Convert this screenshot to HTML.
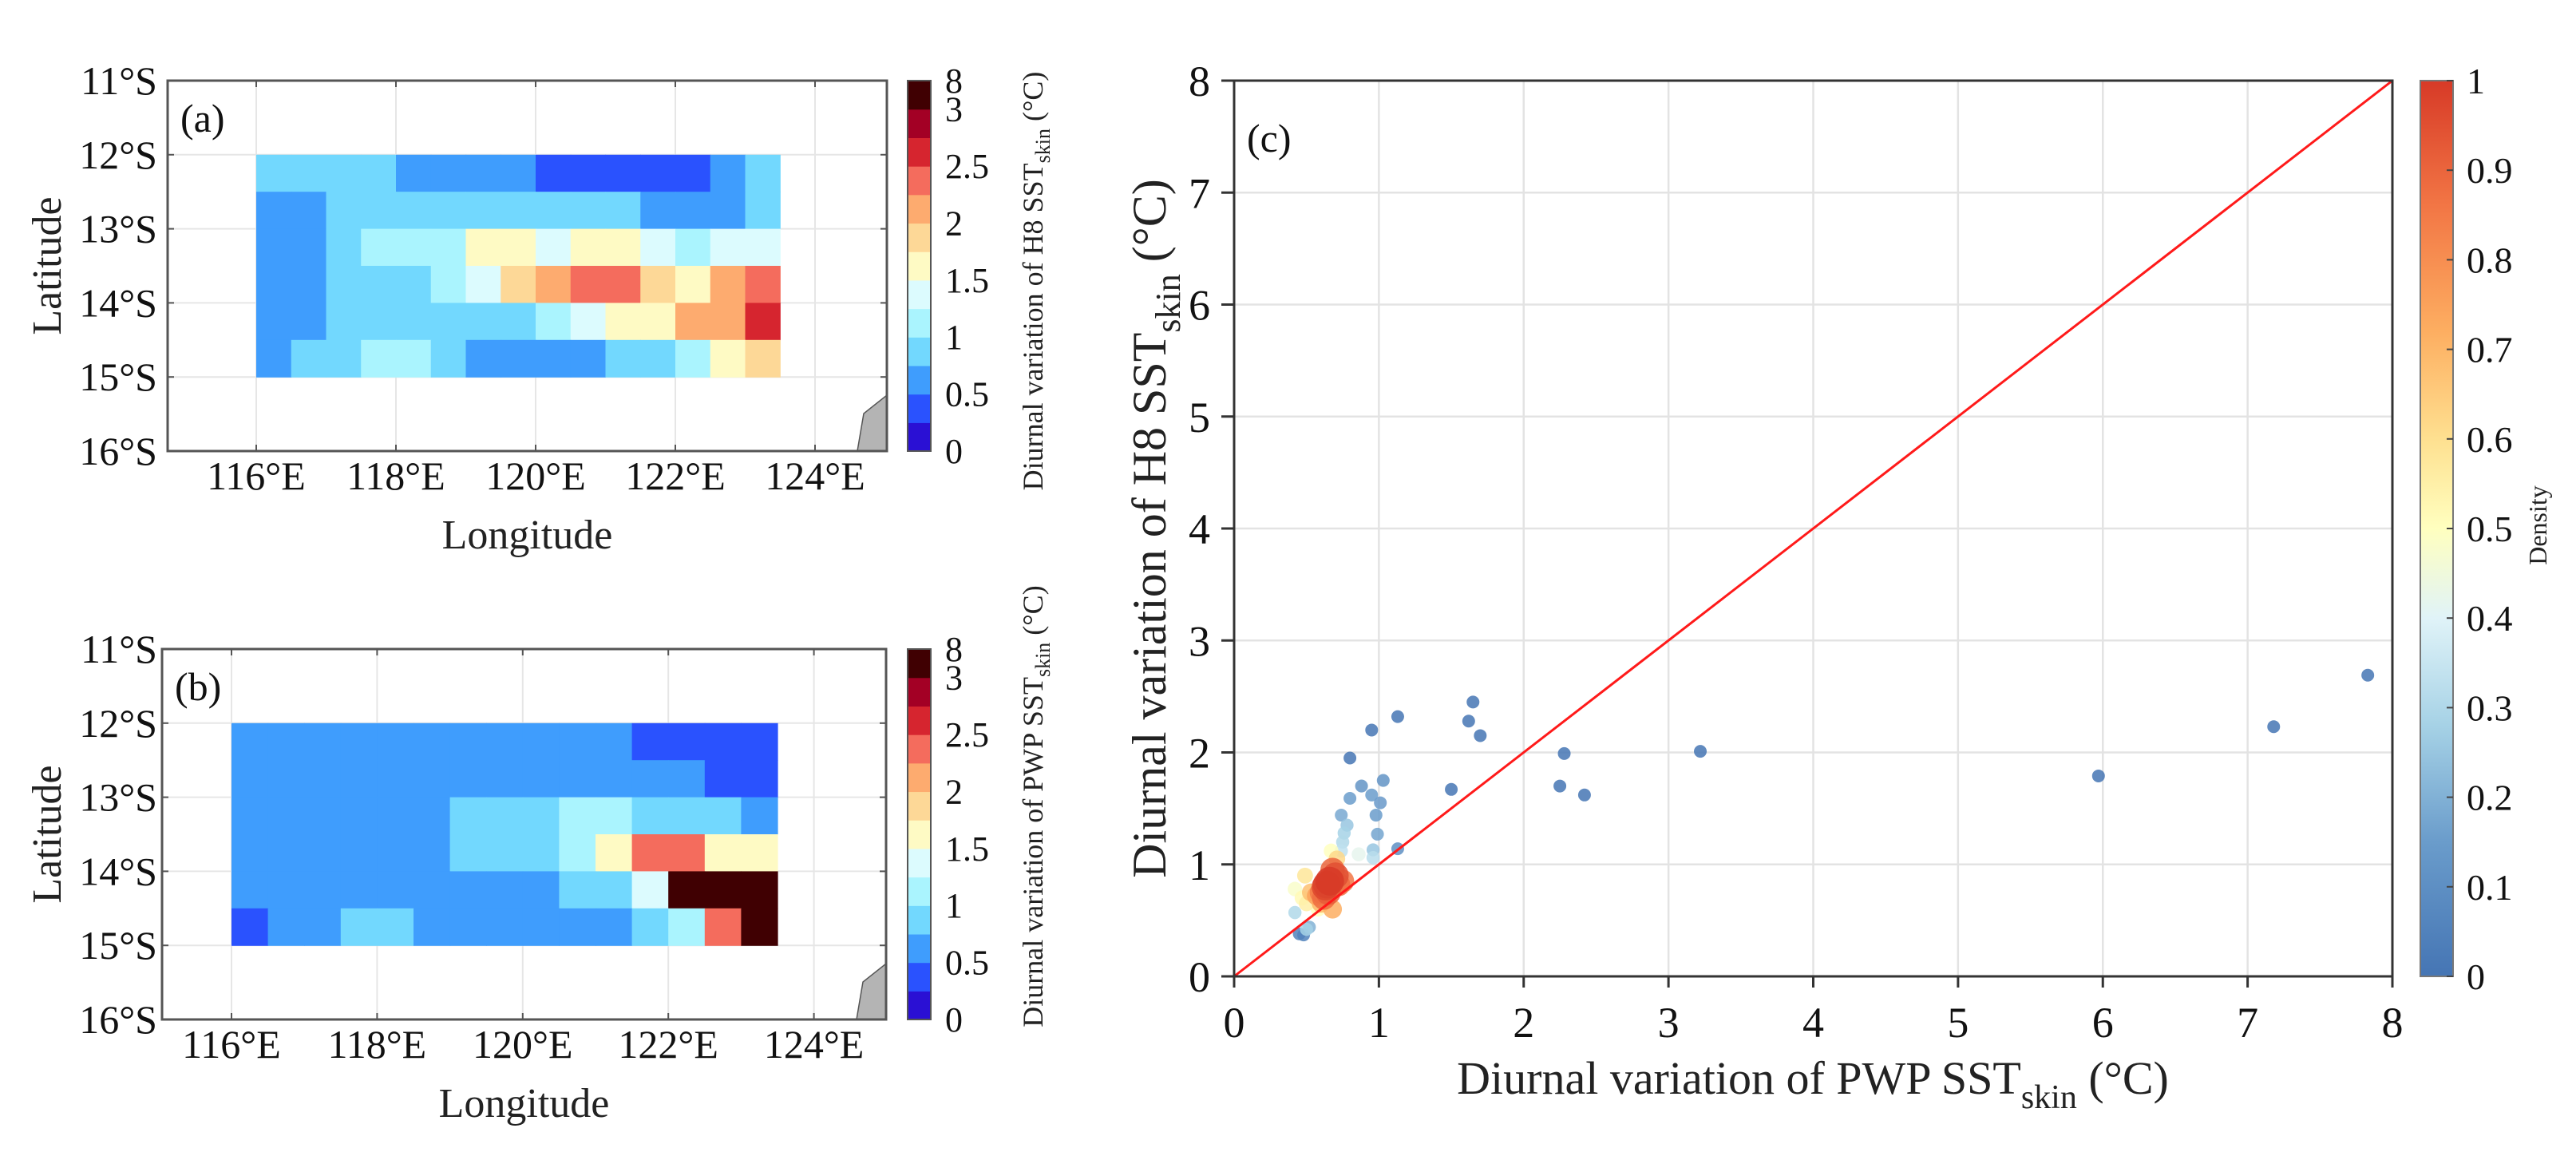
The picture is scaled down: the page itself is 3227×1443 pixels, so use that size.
<!DOCTYPE html>
<html><head><meta charset="utf-8"><style>
html,body{margin:0;padding:0;background:#fff;}
svg{display:block;font-family:"Liberation Serif",serif;}
</style></head><body>
<svg id="fig" width="3227" height="1443" viewBox="0 0 3227 1443" xmlns="http://www.w3.org/2000/svg">
<defs>
<linearGradient id="densGrad" x1="0" y1="1" x2="0" y2="0">
<stop offset="0" stop-color="#4575b4"/><stop offset="0.15" stop-color="#6a9ccb"/><stop offset="0.28" stop-color="#a6d2e6"/><stop offset="0.4" stop-color="#e0f3f8"/><stop offset="0.5" stop-color="#ffffbf"/><stop offset="0.6" stop-color="#fee090"/><stop offset="0.72" stop-color="#fdae61"/><stop offset="0.86" stop-color="#f27645"/><stop offset="1" stop-color="#d73a27"/>
</linearGradient>
</defs>
<g id="panelA"></g>
<g id="panelB"></g>
<g id="panelC"></g>
</svg>
<script>
// ---------- data ----------
const binEdges=[0,0.25,0.5,0.75,1,1.25,1.5,1.75,2,2.25,2.5,2.75,3,8];
const binColors=["#2a10d4","#2a52fe","#3f9dfd","#72d8fe","#aaf4fe","#dcfbfe","#fefac4","#fdd897","#fdab6f","#f46c5d","#d6252f","#a30025","#400002"];
const cbTickVals=[0,0.5,1,1.5,2,2.5,3,8];
const cbTickPos=[0,2,4,6,8,10,12,13];
const latTicks=[11,12,13,14,15,16];
const lonTicks=[116,118,120,122,124];
const lonStart=116, latStart=12, cellDeg=0.5;
// Panel (a) H8 diurnal variation, rows from 12S southward, 0.5° cells starting 116E
const gridA=[
[0.9,0.9,0.9,0.9,0.6,0.6,0.6,0.6,0.4,0.4,0.4,0.4,0.4,0.6,0.9],
[0.6,0.6,0.9,0.9,0.9,0.9,0.9,0.9,0.9,0.9,0.9,0.6,0.6,0.6,0.9],
[0.6,0.6,0.9,1.1,1.1,1.1,1.6,1.6,1.4,1.6,1.6,1.4,1.1,1.4,1.4],
[0.6,0.6,0.9,0.9,0.9,1.1,1.4,1.9,2.1,2.4,2.4,1.9,1.6,2.1,2.4],
[0.6,0.6,0.9,0.9,0.9,0.9,0.9,0.9,1.1,1.4,1.6,1.6,2.1,2.1,2.6],
[0.6,0.9,0.9,1.1,1.1,0.9,0.6,0.6,0.6,0.6,0.9,0.9,1.1,1.6,1.9]];
// Panel (b) PWP diurnal variation
const gridB=[
[0.6,0.6,0.6,0.6,0.6,0.6,0.6,0.6,0.6,0.6,0.6,0.4,0.4,0.4,0.4],
[0.6,0.6,0.6,0.6,0.6,0.6,0.6,0.6,0.6,0.6,0.6,0.6,0.6,0.4,0.4],
[0.6,0.6,0.6,0.6,0.6,0.6,0.9,0.9,0.9,1.1,1.1,0.9,0.9,0.9,0.6],
[0.6,0.6,0.6,0.6,0.6,0.6,0.9,0.9,0.9,1.1,1.6,2.4,2.4,1.6,1.6],
[0.6,0.6,0.6,0.6,0.6,0.6,0.6,0.6,0.6,0.9,0.9,1.4,4,4,4],
[0.4,0.6,0.6,0.9,0.9,0.6,0.6,0.6,0.6,0.6,0.6,0.9,1.1,2.4,4]];
// Panel (c) scatter
const pwp=[0.8,0.95,1.13,1.65,1.62,1.7,1.5,2.28,2.25,2.42,3.22,5.97,7.18,7.83,
0.88,0.8,0.95,1.03,1.01,0.98,0.74,0.99,0.78,1.13,0.96,
0.76,0.75,0.74,0.96,0.42,0.5,0.45,0.48,0.52,
0.86,0.67,0.42,0.47,0.5,0.58,
0.71,0.49,0.53,0.6,0.68,0.57,
0.6,0.62,0.65,0.72,0.75,0.68,0.7,0.63,0.66,0.64];
const h8=[1.95,2.2,2.32,2.45,2.28,2.15,1.67,1.99,1.7,1.62,2.01,1.79,2.23,2.69,
1.7,1.59,1.62,1.75,1.55,1.44,1.44,1.27,1.35,1.14,1.13,
1.28,1.2,1.12,1.06,0.57,0.42,0.38,0.37,0.44,
1.09,1.12,0.78,0.7,0.65,0.6,
1.05,0.9,0.75,0.65,0.6,0.72,
0.75,0.7,0.75,0.82,0.85,0.95,0.9,0.8,0.85,0.82];
const dens=[0,0,0,0,0,0,0,0,0,0,0,0,0,0,
0.12,0.15,0.15,0.12,0.14,0.15,0.18,0.17,0.25,0.1,0.25,
0.28,0.3,0.33,0.32,0.3,0.28,0.05,0.05,0.2,
0.42,0.5,0.48,0.52,0.55,0.5,
0.62,0.58,0.68,0.7,0.72,0.75,
0.85,0.88,0.92,0.88,0.86,0.9,0.95,0.97,1.0,0.98];
const cTicks=[0,1,2,3,4,5,6,7,8];
const densTicks=[0,0.1,0.2,0.3,0.4,0.5,0.6,0.7,0.8,0.9,1];
const densTickLabels=["0","0.1","0.2","0.3","0.4","0.5","0.6","0.7","0.8","0.9","1"];

// ---------- helpers ----------
const NS="http://www.w3.org/2000/svg";
function mk(tag,attrs,parent,text){const e=document.createElementNS(NS,tag);for(const k in attrs)e.setAttribute(k,attrs[k]);if(text!==undefined)e.textContent=text;parent.appendChild(e);return e;}
function binIndex(v){for(let i=0;i<binEdges.length-1;i++){if(v<binEdges[i+1])return i;}return binEdges.length-2;}

function drawMap(g,cfg,grid,label,cbLabel){
  const X=lon=>cfg.x116+(lon-116)*cfg.pxLon;
  const Y=lat=>cfg.top+(lat-11)*cfg.pxLat;
  // grid lines
  lonTicks.forEach(l=>{const e=mk('line',{x1:X(l),x2:X(l),y1:cfg.top,y2:cfg.bottom,stroke:'#e6e6e6','stroke-width':2},g);
    });
  latTicks.forEach(l=>{const e=mk('line',{x1:cfg.left,x2:cfg.right,y1:Y(l),y2:Y(l),stroke:'#e6e6e6','stroke-width':2},g);
    });
  // cells
  grid.forEach((row,r)=>row.forEach((v,c)=>{
    const x0=X(lonStart+c*cellDeg),x1=X(lonStart+(c+1)*cellDeg),y0=Y(latStart+r*cellDeg),y1=Y(latStart+(r+1)*cellDeg);
    const e=mk('rect',{x:x0,y:y0,width:x1-x0+0.6,height:y1-y0+0.6,fill:binColors[binIndex(v)]},g);
    
  }));
  // land
  const land=mk('polygon',{points:`${cfg.right-37},${cfg.bottom} ${cfg.right-29},${cfg.bottom-47} ${cfg.right},${cfg.bottom-70} ${cfg.right},${cfg.bottom}`,fill:'#b4b4b4',stroke:'#555','stroke-width':1.5},g);
  
  // frame
  const fr=mk('rect',{x:cfg.left,y:cfg.top,width:cfg.right-cfg.left,height:cfg.bottom-cfg.top,fill:'none',stroke:'#555','stroke-width':3},g);
  
  // ticks + labels
  latTicks.forEach(l=>{
    mk('line',{x1:cfg.left,x2:cfg.left+8,y1:Y(l),y2:Y(l),stroke:'#555','stroke-width':2},g);
    mk('line',{x1:cfg.right,x2:cfg.right-8,y1:Y(l),y2:Y(l),stroke:'#555','stroke-width':2},g);
    const t=mk('text',{x:197,y:Y(l)+17,'text-anchor':'end','font-size':50,fill:'#111'},g,l+'°S');
    
  });
  lonTicks.forEach(l=>{
    mk('line',{x1:X(l),x2:X(l),y1:cfg.top,y2:cfg.top+8,stroke:'#555','stroke-width':2},g);
    mk('line',{x1:X(l),x2:X(l),y1:cfg.bottom,y2:cfg.bottom-8,stroke:'#555','stroke-width':2},g);
    const t=mk('text',{x:X(l),y:cfg.bottom+48,'text-anchor':'middle','font-size':50,fill:'#111'},g,l+'°E');
    
  });
  const pl=mk('text',{x:cfg.left+16,y:cfg.top+64,'font-size':50,fill:'#111'},g,label);
  
  const xl=mk('text',{x:(cfg.left+cfg.right)/2,y:cfg.bottom+122,'text-anchor':'middle','font-size':52,fill:'#222'},g,'Longitude');
  
  const yl=mk('text',{x:0,y:0,'text-anchor':'middle','font-size':52,fill:'#222',transform:`translate(76,${(cfg.top+cfg.bottom)/2}) rotate(-90)`},g,'Latitude');
  
  // colorbar
  const cbx=1137,cbw=29,nb=binColors.length,bh=(cfg.bottom-cfg.top)/nb;
  binColors.forEach((c,i)=>{const e=mk('rect',{x:cbx,y:cfg.bottom-(i+1)*bh,width:cbw,height:bh+0.6,fill:c},g);
    });
  mk('rect',{x:cbx,y:cfg.top,width:cbw,height:cfg.bottom-cfg.top,fill:'none',stroke:'#555','stroke-width':2},g);
  cbTickVals.forEach((v,i)=>{const yy=cfg.bottom-cbTickPos[i]*bh;
    const t=mk('text',{x:1184,y:yy+15,'font-size':44,fill:'#111'},g,String(v));
    });
  const cl=mk('text',{x:0,y:0,'text-anchor':'middle','font-size':36,fill:'#222',transform:`translate(1306,${cfg.cbLabelY}) rotate(-90)`},g);
  
  mk('tspan',{},cl,cbLabel);
  mk('tspan',{'font-size':26,dy:9},cl,'skin');
  mk('tspan',{dy:-9},cl,' (°C)');
}

drawMap(document.getElementById('panelA'),{left:210,right:1111,top:101,bottom:565,x116:321,pxLon:87.5,pxLat:92.8,cbLabelY:352},gridA,'(a)','Diurnal variation of H8 SST');
drawMap(document.getElementById('panelB'),{left:203,right:1110,top:813,bottom:1277,x116:290,pxLon:91.2,pxLat:92.8,cbLabelY:1010},gridB,'(b)','Diurnal variation of PWP SST');

// ---------- scatter ----------
(function(){
  const g=document.getElementById('panelC');
  const L=1546,R=2997,T=101,B=1223;
  const X=v=>L+v*(R-L)/8, Y=v=>B-v*(B-T)/8;
  cTicks.forEach(v=>{
    const a=mk('line',{x1:X(v),x2:X(v),y1:T,y2:B,stroke:'#e3e3e3','stroke-width':2.5},g);
    
    const b=mk('line',{x1:L,x2:R,y1:Y(v),y2:Y(v),stroke:'#e3e3e3','stroke-width':2.5},g);
    
  });
  // colour function from gradient stops
  const stops=[[0,[69,117,180]],[0.15,[106,156,203]],[0.28,[166,210,230]],[0.4,[224,243,248]],[0.5,[255,255,191]],[0.6,[254,224,144]],[0.72,[253,174,97]],[0.86,[242,118,69]],[1,[215,58,39]]];
  function col(d){for(let i=0;i<stops.length-1;i++){const[a,ca]=stops[i],[b,cb]=stops[i+1];if(d<=b){const t=(d-a)/(b-a);return 'rgb('+ca.map((c,k)=>Math.round(c+(cb[k]-c)*t)).join(',')+')';}}return 'rgb(215,58,39)';}
  const order=dens.map((d,i)=>i).sort((a,b)=>dens[a]-dens[b]);
  order.forEach(i=>{
    const d=dens[i];
    const c=mk('circle',{cx:X(pwp[i]),cy:Y(h8[i]),r:8+10*d*d*d,fill:col(d),'fill-opacity':0.85},g);
    
    
  });
  const ln=mk('line',{x1:X(0),y1:Y(0),x2:X(8),y2:Y(8),stroke:'#ff1a1a','stroke-width':3},g);
  
  const fr=mk('rect',{x:L,y:T,width:R-L,height:B-T,fill:'none',stroke:'#333','stroke-width':3},g);
  
  cTicks.forEach(v=>{
    mk('line',{x1:X(v),x2:X(v),y1:B,y2:B+14,stroke:'#333','stroke-width':3},g);
    mk('line',{x1:L-16,x2:L,y1:Y(v),y2:Y(v),stroke:'#333','stroke-width':3},g);
    const tx=mk('text',{x:X(v),y:B+76,'text-anchor':'middle','font-size':54,fill:'#111'},g,String(v));
    
    const ty=mk('text',{x:1516,y:Y(v)+19,'text-anchor':'end','font-size':54,fill:'#111'},g,String(v));
    
  });
  const pl=mk('text',{x:1562,y:190,'font-size':50,fill:'#111'},g,'(c)');
  
  const xl=mk('text',{x:2271,y:1370,'text-anchor':'middle','font-size':58,fill:'#222'},g);
  
  mk('tspan',{},xl,'Diurnal variation of PWP SST');mk('tspan',{'font-size':42,dy:18},xl,'skin');mk('tspan',{dy:-18},xl,' (°C)');
  const yl=mk('text',{x:0,y:0,'text-anchor':'middle','font-size':60,fill:'#222',transform:'translate(1460,662) rotate(-90)'},g);
  
  mk('tspan',{},yl,'Diurnal variation of H8 SST');mk('tspan',{'font-size':44,dy:18},yl,'skin');mk('tspan',{dy:-18},yl,' (°C)');
  // density colorbar
  const cb=mk('rect',{x:3032,y:T,width:41,height:B-T,fill:'url(#densGrad)',stroke:'#777','stroke-width':2},g);
  
  densTicks.forEach((v,i)=>{const yy=B-v*(B-T);
    mk('line',{x1:3065,x2:3073,y1:yy,y2:yy,stroke:'#444','stroke-width':2},g);
    const t=mk('text',{x:3090,y:yy+16,'font-size':46,fill:'#111'},g,densTickLabels[i]);
    });
  const dl=mk('text',{x:0,y:0,'text-anchor':'middle','font-size':32,fill:'#222',transform:'translate(3190,658) rotate(-90)'},g,'Density');
  
})();
</script>
</body></html>
